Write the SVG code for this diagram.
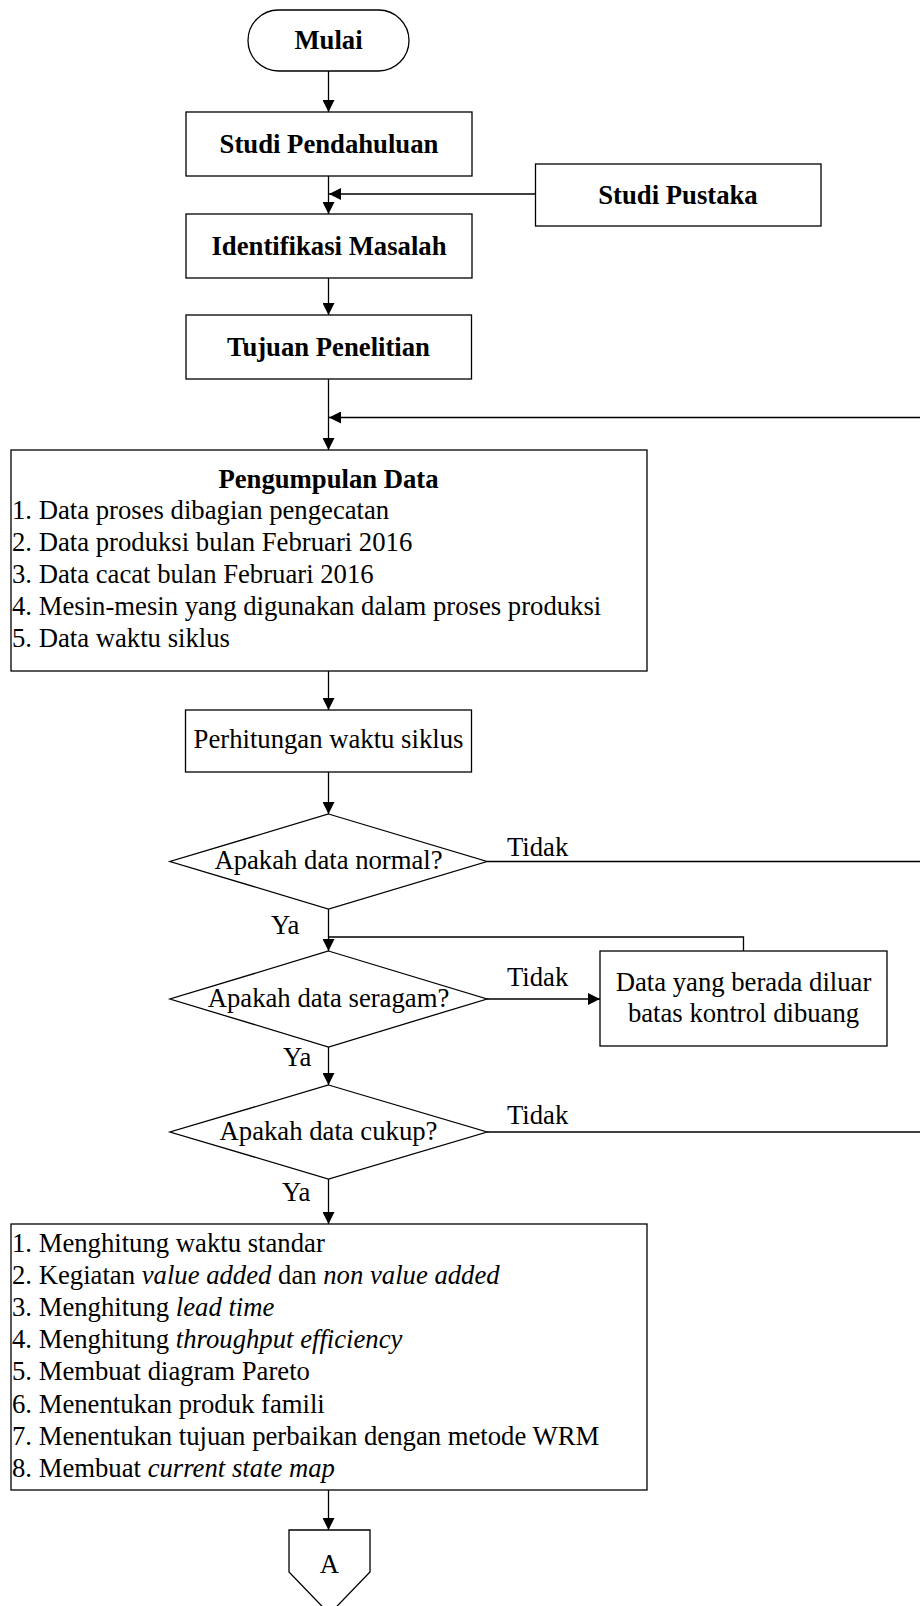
<svg xmlns="http://www.w3.org/2000/svg" width="920" height="1606" viewBox="0 0 920 1606">
<style>
  .box{fill:#fff;stroke:#000;stroke-width:1.3}
  .ln{fill:none;stroke:#000;stroke-width:1.3}
  .t{font-family:"Liberation Serif","Times New Roman",serif;font-size:26.7px;fill:#000}
  .b{font-weight:bold}
  .c{text-anchor:middle}
  .i{font-style:italic}
</style>
<defs>
  <marker id="ah" viewBox="0 0 12 12" refX="12" refY="6" markerWidth="12" markerHeight="12" markerUnits="userSpaceOnUse" orient="auto">
    <path d="M0,0 L12,6 L0,12 Z" fill="#000"/>
  </marker>
</defs>
<rect width="920" height="1606" fill="#fff"/>

<g id="connectors">
  <line class="ln" x1="328.5" y1="71" x2="328.5" y2="112" marker-end="url(#ah)"/>
  <line class="ln" x1="328.5" y1="176" x2="328.5" y2="214" marker-end="url(#ah)"/>
  <line class="ln" x1="535.5" y1="194" x2="329" y2="194" marker-end="url(#ah)"/>
  <line class="ln" x1="328.5" y1="278" x2="328.5" y2="315" marker-end="url(#ah)"/>
  <line class="ln" x1="328.5" y1="379" x2="328.5" y2="450" marker-end="url(#ah)"/>
  <line class="ln" x1="920" y1="417.5" x2="329" y2="417.5" marker-end="url(#ah)"/>
  <line class="ln" x1="328.5" y1="671" x2="328.5" y2="710" marker-end="url(#ah)"/>
  <line class="ln" x1="328.5" y1="772" x2="328.5" y2="814" marker-end="url(#ah)"/>
  <line class="ln" x1="487" y1="861.5" x2="920" y2="861.5"/>
  <line class="ln" x1="328.5" y1="909" x2="328.5" y2="951" marker-end="url(#ah)"/>
  <polyline class="ln" points="743.5,951 743.5,937 328.5,937"/>
  <line class="ln" x1="487" y1="999" x2="600" y2="999" marker-end="url(#ah)"/>
  <line class="ln" x1="328.5" y1="1047" x2="328.5" y2="1085" marker-end="url(#ah)"/>
  <line class="ln" x1="487" y1="1132" x2="920" y2="1132"/>
  <line class="ln" x1="328.5" y1="1179" x2="328.5" y2="1224" marker-end="url(#ah)"/>
  <line class="ln" x1="328.5" y1="1490" x2="328.5" y2="1530" marker-end="url(#ah)"/>
  <text class="t" x="507" y="856">Tidak</text>
  <text class="t" x="507" y="986">Tidak</text>
  <text class="t" x="507" y="1124">Tidak</text>
  <text class="t" x="271" y="934">Ya</text>
  <text class="t" x="283" y="1066">Ya</text>
  <text class="t" x="282" y="1201">Ya</text>
</g>

<g id="mulai">
  <rect class="box" x="248" y="10" width="161" height="61" rx="30.5" ry="30.5"/>
  <text class="t b c" x="328.5" y="49">Mulai</text>
</g>
<g id="studi-pendahuluan">
  <rect class="box" x="186" y="112" width="286" height="64"/>
  <text class="t b c" x="329" y="153">Studi Pendahuluan</text>
</g>
<g id="studi-pustaka">
  <rect class="box" x="535.5" y="164" width="285.5" height="62"/>
  <text class="t b c" x="678" y="204">Studi Pustaka</text>
</g>
<g id="identifikasi-masalah">
  <rect class="box" x="186" y="214" width="286" height="64"/>
  <text class="t b c" x="329" y="255">Identifikasi Masalah</text>
</g>
<g id="tujuan-penelitian">
  <rect class="box" x="186" y="315" width="285.5" height="64"/>
  <text class="t b c" x="328.5" y="356">Tujuan Penelitian</text>
</g>
<g id="pengumpulan-data">
  <rect class="box" x="11" y="450" width="636" height="221"/>
  <text class="t b c" x="328.5" y="488">Pengumpulan Data</text>
  <text class="t" x="12" y="519">1. Data proses dibagian pengecatan</text>
  <text class="t" x="12" y="551">2. Data produksi bulan Februari 2016</text>
  <text class="t" x="12" y="583">3. Data cacat bulan Februari 2016</text>
  <text class="t" x="12" y="615">4. Mesin-mesin yang digunakan dalam proses produksi</text>
  <text class="t" x="12" y="647">5. Data waktu siklus</text>
</g>
<g id="perhitungan-waktu-siklus">
  <rect class="box" x="185.5" y="710" width="286" height="62"/>
  <text class="t c" x="328.5" y="748">Perhitungan waktu siklus</text>
</g>
<g id="data-normal">
  <polygon class="box" points="328.5,814 487,861.5 328.5,909 170,861.5"/>
  <text class="t c" x="328.5" y="869">Apakah data normal?</text>
</g>
<g id="data-seragam">
  <polygon class="box" points="328.5,951 487,999 328.5,1047 170,999"/>
  <text class="t c" x="328.5" y="1007">Apakah data seragam?</text>
</g>
<g id="data-dibuang">
  <rect class="box" x="600" y="951" width="287" height="95"/>
  <text class="t c" x="743.5" y="990.5">Data yang berada diluar</text>
  <text class="t c" x="743.5" y="1021.5">batas kontrol dibuang</text>
</g>
<g id="data-cukup">
  <polygon class="box" points="328.5,1085 487,1132 328.5,1179 170,1132"/>
  <text class="t c" x="328.5" y="1140">Apakah data cukup?</text>
</g>
<g id="pengolahan">
  <rect class="box" x="11" y="1224" width="636" height="266"/>
  <text class="t" x="12" y="1252">1. Menghitung waktu standar</text>
  <text class="t" x="12" y="1284">2. Kegiatan <tspan class="i">value added</tspan> dan <tspan class="i">non value added</tspan></text>
  <text class="t" x="12" y="1316">3. Menghitung <tspan class="i">lead time</tspan></text>
  <text class="t" x="12" y="1348">4. Menghitung <tspan class="i">throughput efficiency</tspan></text>
  <text class="t" x="12" y="1380">5. Membuat diagram Pareto</text>
  <text class="t" x="12" y="1412.5">6. Menentukan produk famili</text>
  <text class="t" x="12" y="1444.5">7. Menentukan tujuan perbaikan dengan metode WRM</text>
  <text class="t" x="12" y="1477">8. Membuat <tspan class="i">current state map</tspan></text>
</g>
<g id="konektor-a">
  <polygon class="box" points="289,1530 370,1530 370,1572 329.5,1614 289,1572"/>
  <text class="t c" x="329.5" y="1573">A</text>
</g>
</svg>
